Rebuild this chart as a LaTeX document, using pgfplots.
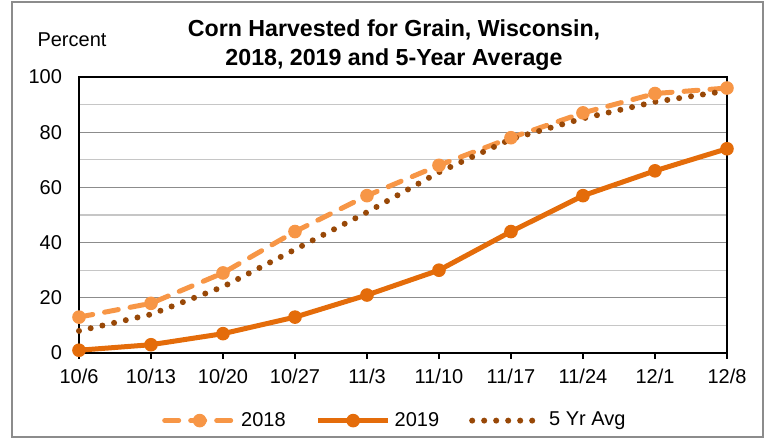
\documentclass[border=0pt]{standalone}
\usepackage{fontspec}
\setmainfont{Liberation Sans}
\usepackage{pgfplots}
\pgfplotsset{compat=1.18}
\definecolor{c18}{HTML}{F79646}
\definecolor{c19}{HTML}{E46C0A}
\definecolor{c5y}{HTML}{984807}
\definecolor{gmaj}{HTML}{8C8C8C}
\definecolor{gmin}{HTML}{C6C6C6}
\begin{document}
\begin{tikzpicture}
\begin{axis}[
  name=ax,
  scale only axis,
  width=324pt, height=138pt,
  xmin=0, xmax=9, ymin=0, ymax=100,
  xtick={0,...,9},
  xticklabels={10/6,10/13,10/20,10/27,11/3,11/10,11/17,11/24,12/1,12/8},
  ytick={0,20,...,100},
  minor ytick={10,30,...,90},
  ymajorgrids, yminorgrids,
  major grid style={gmaj, line width=0.6pt},
  minor grid style={gmin, line width=0.6pt},
  ytick style={draw=none},
  minor y tick style={draw=none},
  xtick pos=lower,
  xtick align=outside,
  major tick length=3pt,
  xtick style={black, line width=0.75pt},
  axis line style={black, line width=0.75pt},
  tick label style={font=\fontsize{10}{12}\selectfont},
  yticklabel style={xshift=-5pt},
  xticklabel style={yshift=-1.5pt},
  /pgf/number format/assume math mode=true,
  clip=false,
  legend columns=3,
  legend style={draw=none, fill=none, at={(axis description cs:0.489,-0.245)}, anchor=center,
    font=\fontsize{10}{12}\selectfont,
    /tikz/every even column/.append style={column sep=13pt}},
  legend image code/.code={\draw[mark repeat=2,mark phase=2] plot coordinates {(0pt,0pt) (17.5pt,0pt) (35pt,0pt)};},
]
\addplot[c18, line width=2.5pt, dash pattern=on 7pt off 6pt, line cap=round, mark=*, mark size=3.1pt, mark options={solid, line width=0.6pt}]
  coordinates {(0,13) (1,18) (2,29) (3,44) (4,57) (5,68) (6,78) (7,87) (8,94) (9,96)};
\addlegendentry{2018}
\addplot[c19, line width=2.5pt, mark=*, mark size=3.1pt, mark options={line width=0.6pt}]
  coordinates {(0,1) (1,3) (2,7) (3,13) (4,21) (5,30) (6,44) (7,57) (8,66) (9,74)};
\addlegendentry{2019}
\addplot[c5y, line width=3pt, dash pattern=on 0pt off 6pt, line cap=round]
  coordinates {(0,8) (1,14) (2,24) (3,37.5) (4,51) (5,65.5) (6,77.5) (7,85) (8,91) (9,95)};
\addlegendentry{5 Yr Avg}
\end{axis}
\node[font=\fontsize{11.6}{14.5}\selectfont\bfseries, align=center] at ([shift={(157.5pt,153.75pt)}]ax.south west)
  {Corn Harvested for Grain, Wisconsin,\\2018, 2019 and 5-Year Average};
\node[font=\fontsize{10}{12}\selectfont] at ([shift={(-3.5pt,156.5pt)}]ax.south west) {Percent};
\draw[color=gray!90, line width=0.8pt] ([shift={(-33.5pt,-42pt)}]ax.south west) rectangle ([shift={(342pt,175.5pt)}]ax.south west);
\pgfresetboundingbox
\path[use as bounding box] ([shift={(-39.5pt,-42.5pt)}]ax.south west) rectangle ([shift={(343.5pt,176.5pt)}]ax.south west);
\end{tikzpicture}
\end{document}
